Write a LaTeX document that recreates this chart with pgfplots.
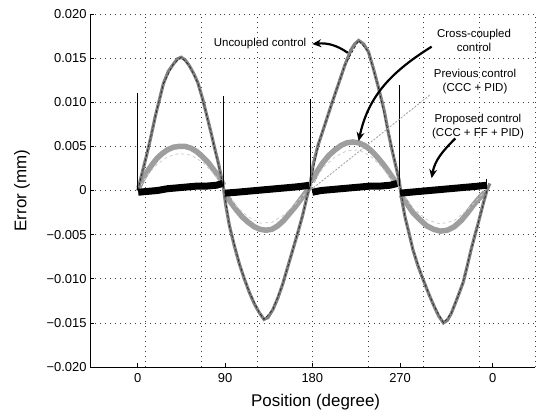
\documentclass[border=0pt]{standalone}
\usepackage{pgfplots}
\pgfplotsset{compat=1.18}
\usepackage{fontspec}
\setmainfont{Liberation Sans}
\usetikzlibrary{arrows.meta}

\begin{document}
\begin{tikzpicture}
\begin{axis}[
    at={(90bp,44bp)}, anchor=south west,
    scale only axis,
    width=445bp, height=353bp,
    xmin=-48.4, xmax=402.8,
    ymin=-0.02, ymax=0.02,
    axis x line*=bottom, axis y line*=left,
    axis line style={black, line width=1pt, -},
    xtick={0,88.5,177,266,360},
    xticklabels={0,90,180,270,0},
    ytick={-0.02,-0.015,-0.01,-0.005,0,0.005,0.01,0.015,0.02},
    yticklabels={−0.020,−0.015,−0.010,−0.005,0,0.005,0.010,0.015,0.020},
    scaled y ticks=false,
    tick align=inside,
    major tick length=4bp,
    tick style={black, line width=0.6pt},
    tick label style={font=\fontsize{13}{15}\selectfont},
    xticklabel style={yshift=-3bp},
    ymajorgrids=true,
    extra x ticks={8,64.4,120.8,177.2,233.6,290,346.4,402.8},
    extra x tick labels={},
    extra x tick style={xmajorgrids=true, major tick length=0pt},
    grid style={black!75, line width=0.6pt, dash pattern=on 1pt off 4pt},
    xlabel={Position (degree)},
    ylabel={Error (mm)},
    every axis x label/.style={at={(axis description cs:0.507,-0.099)}, anchor=center, font=\fontsize{17}{19}\selectfont},
    every axis y label/.style={at={(axis description cs:-0.153,0.5)}, rotate=90, anchor=center, font=\fontsize{17}{19}\selectfont},
    clip=false
]

% cross-coupled control (gray band, about 0.005)
\addplot[black!38, line width=5.5pt] coordinates {
(1,0.0003) (5,0.0013) (10,0.0022) (15,0.0030) (20,0.0037) (25,0.0042) (30,0.0046) (36,0.0049) (42,0.0050) (48,0.0050) (54,0.0048) (60,0.0044) (66,0.0038) (72,0.0031) (78,0.0022) (84,0.0013) (87,0.0006)
};
\addplot[black!38, line width=5.5pt] coordinates {
(89,-0.0003) (94,-0.0013) (100,-0.0022) (106,-0.0030) (112,-0.0036) (118,-0.0041) (124,-0.0044) (130,-0.0045) (136,-0.0044) (142,-0.0040) (148,-0.0034) (154,-0.0026) (160,-0.0018) (166,-0.0009) (172,0.0000) (175,0.0005)
};
\addplot[black!38, line width=5.5pt] coordinates {
(177,0.0010) (182,0.0022) (188,0.0032) (194,0.0040) (200,0.0046) (206,0.0051) (212,0.0054) (218,0.0055) (224,0.0054) (230,0.0051) (236,0.0046) (242,0.0039) (248,0.0031) (254,0.0022) (260,0.0012) (264,0.0005)
};
\addplot[black!38, line width=5.5pt] coordinates {
(267,-0.0005) (273,-0.0015) (279,-0.0025) (286,-0.0033) (293,-0.0040) (300,-0.0044) (307,-0.0046) (314,-0.0045) (321,-0.0041) (328,-0.0034) (334,-0.0026) (340,-0.0017) (346,-0.0009) (352,-0.0002)
};

% previous control (lighter, thin)
\addplot[black!20, line width=0.8pt, dashed] coordinates {
(0,0) (10,0.0018) (20,0.0030) (30,0.0038) (42,0.0042) (54,0.0040) (66,0.0032) (78,0.0018) (87,0.0004)
(100,-0.0018) (112,-0.0030) (124,-0.0037) (136,-0.0036) (148,-0.0028) (160,-0.0015) (175,0.0003)
(188,0.0026) (200,0.0038) (212,0.0045) (224,0.0046) (236,0.0039) (248,0.0026) (264,0.0003)
(279,-0.0020) (293,-0.0033) (307,-0.0038) (321,-0.0034) (334,-0.0022) (352,-0.0001)
};

% uncoupled control
\addplot[black!50, line width=3.2pt] coordinates {
(0,0) (4,0.0018) (9,0.0040) (13,0.0059) (18,0.0085) (22,0.0103) (26,0.0121) (31,0.0135) (36,0.0143) (40,0.0149) (44,0.0151) (48,0.0148) (52,0.0142) (57,0.0132) (61,0.0122) (66,0.0103) (70,0.0085) (74,0.0067) (78,0.0048) (82,0.0030) (85,0.0014) (87,0.0003)
(89,-0.0015) (93,-0.0040) (98,-0.0063) (103,-0.0083) (108,-0.0100) (113,-0.0115) (118,-0.0128) (123,-0.0138) (128,-0.0146) (132,-0.0144) (137,-0.0135) (142,-0.0122) (147,-0.0106) (152,-0.0087) (157,-0.0068) (162,-0.0049) (167,-0.0029) (171,-0.0010) (175,0.0008)
(178,0.0030) (183,0.0052) (189,0.0072) (196,0.0096) (203,0.0119) (210,0.0142) (216,0.0159) (220,0.0166) (224,0.0170) (229,0.0166) (234,0.0157) (239,0.0138) (244,0.0117) (250,0.0090) (254,0.0066) (258,0.0045) (262,0.0026) (265,0.0012)
(268,-0.0012) (271,-0.0030) (275,-0.0048) (279,-0.0067) (284,-0.0085) (289,-0.0100) (295,-0.0117) (300,-0.0130) (305,-0.0142) (310,-0.0150) (314,-0.0147) (318,-0.0139) (324,-0.0122) (330,-0.0104) (334,-0.0086) (338,-0.0067) (342,-0.0050) (345,-0.0038) (350,-0.0016) (354,0.0000) (357,0.0008)
};
\addplot[black!85, line width=0.7pt, densely dashed] coordinates {
(0,0) (9,0.0040) (18,0.0085) (26,0.0121) (36,0.0143) (44,0.0151) (52,0.0142) (61,0.0122) (70,0.0085) (78,0.0048) (87,0.0003)
(93,-0.0040) (103,-0.0083) (113,-0.0115) (123,-0.0138) (128,-0.0146) (137,-0.0135) (147,-0.0106) (157,-0.0068) (167,-0.0029) (175,0.0008)
(183,0.0052) (196,0.0096) (210,0.0142) (224,0.0170) (234,0.0157) (244,0.0117) (254,0.0066) (265,0.0012)
(271,-0.0030) (279,-0.0067) (289,-0.0100) (300,-0.0130) (310,-0.0150) (318,-0.0139) (330,-0.0104) (338,-0.0067) (345,-0.0038) (354,0.0000)
};

% proposed control (black band near zero)
\addplot[black, line width=7pt] coordinates {
(0.5,-0.0002) (10,-0.0001) (20,0.0000) (30,0.0002) (40,0.0003) (50,0.0004) (60,0.0005) (70,0.0005) (80,0.0006) (86,0.0008)
};
\addplot[black, line width=7pt] coordinates {
(88.5,-0.0003) (100,-0.0002) (110,-0.0001) (120,0.0000) (130,0.0001) (140,0.0002) (150,0.0003) (160,0.0004) (168,0.0005) (174,0.0006)
};
\addplot[black, line width=7pt] coordinates {
(177,-0.0002) (186,0.0000) (196,0.0001) (206,0.0002) (216,0.0003) (226,0.0004) (236,0.0005) (246,0.0005) (256,0.0006) (263,0.0008)
};
\addplot[black, line width=7pt] coordinates {
(266,-0.0003) (276,-0.0002) (286,-0.0001) (296,0.0000) (306,0.0001) (316,0.0002) (326,0.0003) (336,0.0004) (346,0.0005) (354,0.0006)
};

% spikes at the quadrant changes
\addplot[black, line width=0.9pt] coordinates {(0,0) (0,0.0110)};
\addplot[black, line width=0.9pt] coordinates {(86.5,0.0005) (86.5,0.0107)};
\addplot[black, line width=0.9pt] coordinates {(175,0.0005) (175,0.0104)};
\addplot[black, line width=0.9pt] coordinates {(265,0.0005) (265,0.0120)};
\addplot[black, line width=0.9pt] coordinates {(354,0.0002) (354,0.0013)};

% annotations
\tikzset{lab/.style={font=\fontsize{11.5}{14}\selectfont, align=center, inner sep=0pt}}
\node[lab] at (axis cs:124,0.0166) {Uncoupled control};
\draw[black, line width=2.2pt, -{Stealth[length=9pt,width=8pt]}]
    (axis cs:213,0.0156) to[out=145,in=5] (axis cs:177,0.0166);

\node[lab] at (axis cs:341,0.0170) {Cross-coupled\\control};
\draw[black, line width=2.2pt, -{Stealth[length=9pt,width=8pt]}]
    (axis cs:298,0.0163) to[out=212,in=78] (axis cs:224,0.0056);

\node[lab] at (axis cs:342,0.0123) {Previous control\\(CCC + PID)};
\draw[black!35, line width=0.9pt, dash pattern=on 2pt off 1.5pt]
    (axis cs:296,0.0108) -- (axis cs:177,0.0002);

\node[lab] at (axis cs:345,0.0073) {Proposed control\\(CCC + FF + PID)};
\draw[black, line width=2.2pt, -{Stealth[length=9pt,width=8pt]}]
    (axis cs:322,0.0059) to[out=225,in=80] (axis cs:298,0.0014);
\end{axis}
\path (0,0) rectangle (543bp,411bp);
\end{tikzpicture}
\end{document}
